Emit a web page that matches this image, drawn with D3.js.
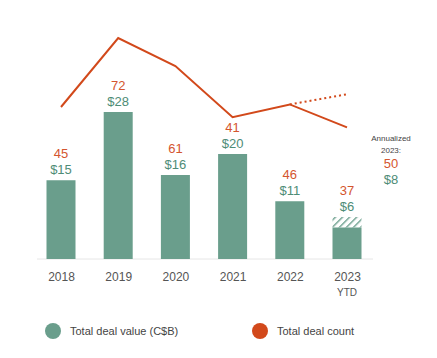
<!DOCTYPE html>
<meta charset="utf-8">
<script src="https://d3js.org/d3.v7.min.js"></script>
<style>
  body { margin: 0; background: #fff; }
  text { font-family: "Liberation Sans", Arial, sans-serif; }
</style>
<div id="my_dataviz"></div>
<script>

// data
var years = ["2018", "2019", "2020", "2021", "2022", "2023"];
var dealValue = [15, 28, 16, 20, 11, 6];
var dealCount = [45, 72, 61, 41, 46, 37];
var annualValue = 8;
var annualCount = 50;

var green = "#6a9e8c", greenText = "#4e8c76";
var orange = "#d2491b", orangeText = "#d4552e";

var svg = d3.select("#my_dataviz")
  .append("svg")
    .attr("width", 437)
    .attr("height", 358);

// x: centre of each year
var x = d3.scalePoint()
  .domain(years)
  .range([61, 347]);

// y for bars (C$B)
var yVal = d3.scaleLinear()
  .domain([0, 28])
  .range([259, 112]);

// y for line (deal count)
var yCnt = d3.scaleLinear()
  .domain([0, 72])
  .range([222, 38]);

var barW = 29;

// hatch pattern for the annualized part
var defs = svg.append("defs");
var pat = defs.append("pattern")
    .attr("id", "hatch")
    .attr("patternUnits", "userSpaceOnUse")
    .attr("width", 5)
    .attr("height", 5)
    .attr("patternTransform", "rotate(-45)");
pat.append("rect").attr("width", 5).attr("height", 5).attr("fill", "#fff");
pat.append("rect").attr("width", 5).attr("height", 1.4).attr("fill", green);

// baseline
svg.append("line")
  .attr("x1", 37).attr("x2", 373)
  .attr("y1", yVal(0)).attr("y2", yVal(0))
  .attr("stroke", "#e6e6e6")
  .attr("stroke-width", 1);

// annualized hatched extension (2023)
svg.append("rect")
  .attr("x", x("2023") - barW / 2)
  .attr("y", yVal(annualValue))
  .attr("width", barW)
  .attr("height", yVal(dealValue[5]) - yVal(annualValue))
  .attr("fill", "url(#hatch)");

// bars
svg.append("g")
  .selectAll("rect")
  .data(years)
  .enter()
  .append("rect")
    .attr("x", function(d) { return x(d) - barW / 2 })
    .attr("y", function(d, i) { return yVal(dealValue[i]) })
    .attr("width", barW)
    .attr("height", function(d, i) { return yVal(0) - yVal(dealValue[i]) })
    .attr("fill", green);

// deal count line
svg.append("path")
  .datum(years)
  .attr("fill", "none")
  .attr("stroke", orange)
  .attr("stroke-width", 2)
  .attr("d", d3.line()
    .x(function(d) { return x(d) })
    .y(function(d, i) { return yCnt(dealCount[i]) }));

// dotted annualized segment
svg.append("path")
  .datum([["2022", dealCount[4]], ["2023", annualCount]])
  .attr("fill", "none")
  .attr("stroke", orange)
  .attr("stroke-width", 2)
  .attr("stroke-dasharray", "2,3")
  .attr("d", d3.line()
    .x(function(d) { return x(d[0]) })
    .y(function(d) { return yCnt(d[1]) }));

// labels above the bars
var labels = svg.append("g")
  .selectAll("g")
  .data(years)
  .enter()
  .append("g");

labels.append("text")
  .attr("x", function(d) { return x(d) })
  .attr("y", function(d, i) {
    var top = (i == 5) ? yVal(annualValue) : yVal(dealValue[i]);
    return top - 6;
  })
  .attr("text-anchor", "middle")
  .attr("font-size", 13)
  .attr("fill", greenText)
  .text(function(d, i) { return "$" + dealValue[i] });

labels.append("text")
  .attr("x", function(d) { return x(d) })
  .attr("y", function(d, i) {
    var top = (i == 5) ? yVal(annualValue) : yVal(dealValue[i]);
    return top - 22;
  })
  .attr("text-anchor", "middle")
  .attr("font-size", 13)
  .attr("fill", orangeText)
  .text(function(d, i) { return dealCount[i] });

// x axis labels
var xAxis = svg.append("g")
  .attr("transform", "translate(0," + yVal(0) + ")")
  .call(d3.axisBottom(x).tickSize(0).tickPadding(13));
xAxis.select(".domain").remove();
xAxis.selectAll("text")
  .attr("font-size", 12)
  .attr("fill", "#555")
  .style("font-family", "Liberation Sans, Arial, sans-serif");

svg.append("text")
  .attr("x", x("2023"))
  .attr("y", 296)
  .attr("text-anchor", "middle")
  .attr("font-size", 10)
  .attr("fill", "#555")
  .text("YTD");

// annualized note
var ax = 391;
svg.append("text").attr("x", ax).attr("y", 141).attr("text-anchor", "middle")
  .attr("font-size", 8).attr("fill", "#444").text("Annualized");
svg.append("text").attr("x", ax).attr("y", 153).attr("text-anchor", "middle")
  .attr("font-size", 8).attr("fill", "#444").text("2023:");
svg.append("text").attr("x", ax).attr("y", 168).attr("text-anchor", "middle")
  .attr("font-size", 13).attr("fill", orangeText).text(annualCount);
svg.append("text").attr("x", ax).attr("y", 184).attr("text-anchor", "middle")
  .attr("font-size", 13).attr("fill", greenText).text("$" + annualValue);

// legend
var legend = [
  {label: "Total deal value (C$B)", color: green, cx: 53},
  {label: "Total deal count", color: orange, cx: 260}
];
var lg = svg.append("g")
  .selectAll("g")
  .data(legend)
  .enter()
  .append("g");
lg.append("circle")
  .attr("cx", function(d) { return d.cx })
  .attr("cy", 331)
  .attr("r", 8)
  .attr("fill", function(d) { return d.color });
lg.append("text")
  .attr("x", function(d) { return d.cx + 17 })
  .attr("y", 335)
  .attr("font-size", 11)
  .attr("fill", "#444")
  .text(function(d) { return d.label });

</script>
